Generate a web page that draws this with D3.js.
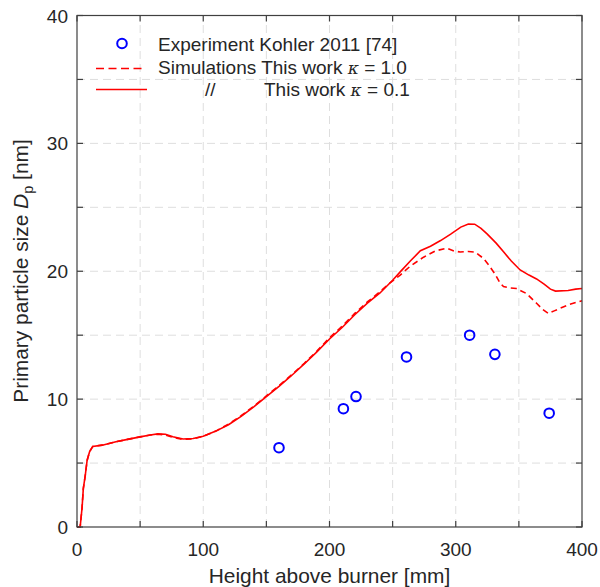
<!DOCTYPE html>
<html><head><meta charset="utf-8">
<script src="https://cdn.jsdelivr.net/npm/d3@7"></script>
<style>body{margin:0;background:#fff}text{font-family:"Liberation Sans",Arial,sans-serif;fill:#262626}</style>
</head><body><svg id="c" width="600" height="587"></svg>
<script>
const expX = [160, 211, 221, 261, 311, 331, 374];
const expY = [6.2, 9.25, 10.2, 13.3, 15.0, 13.5, 8.9];

const solidX = [0,2.5,4,5,6.5,8,10,12.5,20,30,40,50,58,64,70,76,84,92,100,110,120,130,140,150,160,170,180,190,200,210,220,230,240,250,256,264,272,280,288,296,304,310,315,320,325,332,338,344,351,358,364,370,375,379,389,395,400];
const solidY = [0,0,1.5,3,4,5.2,5.9,6.3,6.4,6.65,6.85,7.05,7.2,7.28,7.25,7.05,6.88,6.92,7.1,7.5,8.0,8.65,9.4,10.2,11.0,11.85,12.75,13.7,14.7,15.6,16.6,17.5,18.3,19.3,19.95,20.8,21.6,21.95,22.4,22.9,23.45,23.7,23.68,23.35,22.9,22.2,21.5,20.8,20.1,19.7,19.4,19.0,18.6,18.45,18.5,18.6,18.65];

const dashX = [0,2.5,4,5,6.5,8,10,12.5,20,30,40,50,58,64,70,76,84,92,100,110,120,130,140,150,160,170,180,190,200,210,220,230,240,248,256,264,274.5,284,293,298,303.5,310,315.4,322,326,331,335,337.8,343,348,356,364,369,373.4,378,382.6,390,400];
const dashY = [0,0,1.5,3,4,5.2,5.9,6.3,6.4,6.65,6.85,7.05,7.2,7.25,7.2,7.0,6.85,6.9,7.1,7.5,8.05,8.7,9.45,10.25,11.05,11.9,12.8,13.75,14.8,15.7,16.7,17.6,18.4,19.1,19.7,20.4,21.1,21.6,21.8,21.6,21.5,21.55,21.5,21.0,20.5,19.8,19.1,18.8,18.7,18.65,18.26,17.5,17.0,16.7,16.9,17.1,17.4,17.7];

const xTicks = [0,50,100,150,200,250,300,350,400];
const xLabels = [0,100,200,300,400];
const yTicks = [0,5,10,15,20,25,30,35,40];
const yLabels = [0,10,20,30,40];

const svg = d3.select("#c");
const L=77, R=582, T=15.5, B=527;
const x = d3.scaleLinear().domain([0,400]).range([L,R]);
const y = d3.scaleLinear().domain([0,40]).range([B,T]);

// grid
const g = svg.append("g");
g.selectAll("line.gx").data(xTicks.filter(d=>d>0&&d<400)).join("line")
  .attr("x1",d=>x(d)).attr("x2",d=>x(d)).attr("y1",B).attr("y2",T)
  .attr("stroke","#dedede").attr("stroke-width",1).attr("stroke-dasharray","8,5");
g.selectAll("line.gy").data(yTicks.filter(d=>d>0&&d<40)).join("line")
  .attr("y1",d=>y(d)).attr("y2",d=>y(d)).attr("x1",L).attr("x2",R)
  .attr("stroke","#dedede").attr("stroke-width",1).attr("stroke-dasharray","8,5");

// curves
const line = (xs,ys)=>d3.line().x((d,i)=>x(xs[i])).y((d,i)=>y(ys[i]))(xs);
svg.append("path").attr("d",line(dashX,dashY)).attr("fill","none").attr("stroke","#ff0000")
  .attr("stroke-width",1.6).attr("stroke-dasharray","6,4");
svg.append("path").attr("d",line(solidX,solidY)).attr("fill","none").attr("stroke","#ff0000")
  .attr("stroke-width",1.6);

// points
svg.selectAll("circle.e").data(expX).join("circle")
  .attr("cx",d=>x(d)).attr("cy",(d,i)=>y(expY[i])).attr("r",4.8)
  .attr("fill","none").attr("stroke","#0000ff").attr("stroke-width",2);

// axes box
const tl=6;
const ax = svg.append("g").attr("stroke","#404040").attr("stroke-width",1.2);
ax.append("rect").attr("x",L).attr("y",T).attr("width",R-L).attr("height",B-T).attr("fill","none");
xTicks.forEach(d=>{
  ax.append("line").attr("x1",x(d)).attr("x2",x(d)).attr("y1",B).attr("y2",B-tl);
  ax.append("line").attr("x1",x(d)).attr("x2",x(d)).attr("y1",T).attr("y2",T+tl);
});
yTicks.forEach(d=>{
  ax.append("line").attr("y1",y(d)).attr("y2",y(d)).attr("x1",L).attr("x2",L+tl);
  ax.append("line").attr("y1",y(d)).attr("y2",y(d)).attr("x1",R).attr("x2",R-tl);
});
svg.selectAll("text.xl").data(xLabels).join("text")
  .attr("x",d=>x(d)).attr("y",556).attr("text-anchor","middle").attr("font-size",19).text(d=>d);
svg.selectAll("text.yl").data(yLabels).join("text")
  .attr("x",L-9).attr("y",d=>y(d)+7).attr("text-anchor","end").attr("font-size",19).text(d=>d);

svg.append("text").attr("x",(L+R)/2).attr("y",583).attr("text-anchor","middle").attr("font-size",20.9)
  .text("Height above burner [mm]");
const yl = svg.append("text").attr("transform","translate(28,271) rotate(-90)").attr("text-anchor","middle").attr("font-size",20.9);
yl.append("tspan").text("Primary particle size ");
yl.append("tspan").attr("font-style","italic").text("D");
yl.append("tspan").attr("font-size",14.5).attr("dy",5).text("p");
yl.append("tspan").attr("dy",-5).text(" [nm]");

// legend
const lg = svg.append("g");
lg.append("circle").attr("cx",122).attr("cy",43.5).attr("r",4.8).attr("fill","none").attr("stroke","#0000ff").attr("stroke-width",2);
lg.append("line").attr("x1",96).attr("x2",146).attr("y1",68.5).attr("y2",68.5).attr("stroke","#ff0000").attr("stroke-width",1.6).attr("stroke-dasharray","8,4.5");
lg.append("line").attr("x1",96).attr("x2",147).attr("y1",89.5).attr("y2",89.5).attr("stroke","#ff0000").attr("stroke-width",1.6);
lg.append("text").attr("x",158).attr("y",50.5).attr("font-size",19).text("Experiment Kohler 2011 [74]");
const t2 = lg.append("text").attr("x",158).attr("y",74).attr("font-size",19);
t2.append("tspan").text("Simulations This work ");
t2.append("tspan").attr("font-style","italic").attr("font-family","DejaVu Serif").attr("font-size",17).text("κ");
t2.append("tspan").text(" = 1.0");
lg.append("text").attr("x",205).attr("y",96).attr("font-size",19).text("//");
const t3 = lg.append("text").attr("x",264).attr("y",96).attr("font-size",19);
t3.append("tspan").text("This work ");
t3.append("tspan").attr("font-style","italic").attr("font-family","DejaVu Serif").attr("font-size",17).text("κ");
t3.append("tspan").text(" = 0.1");
</script></body></html>
